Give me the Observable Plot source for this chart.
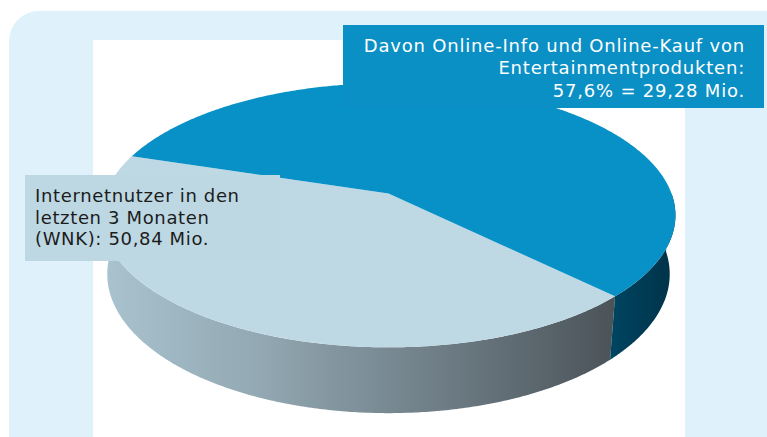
<!DOCTYPE html>
<html>
<head>
<meta charset="utf-8">
<script src="https://cdn.jsdelivr.net/npm/d3@7"></script>
<script src="https://cdn.jsdelivr.net/npm/@observablehq/plot@0.6"></script>
<style>
  html, body { margin: 0; padding: 0; background: #ffffff; }
  #stage { position: relative; width: 767px; height: 437px; overflow: hidden; background: #ffffff; font-family: "DejaVu Sans", Verdana, sans-serif; }
  #panel { position: absolute; left: 9px; top: 11px; width: 820px; height: 500px; border-radius: 30px; background: #dff2fc; }
  #inner { position: absolute; left: 93px; top: 40px; width: 592px; height: 420px; background: #ffffff; }
  #chart { position: absolute; left: 0; top: 0; }
  .lbl { position: absolute; box-sizing: border-box; font-size: 18px; }
  #lblTop { left: 343px; top: 25px; width: 421px; height: 83px; background: #0a90c5; color: #ffffff; text-align: right; padding: 9.5px 19px 0 0; line-height: 22.5px; letter-spacing: 0.8px; }
  #lblLeft { left: 25px; top: 175px; width: 255px; height: 86px; background: #bdd8e3; color: #1c1c1c; text-align: left; padding: 10px 0 0 10px; line-height: 21.5px; letter-spacing: 0.65px; }
</style>
</head>
<body>
<div id="stage">
  <div id="panel"></div>
  <div id="inner"></div>
  <div id="chart"></div>
  <div class="lbl" id="lblTop"></div>
  <div class="lbl" id="lblLeft"></div>
</div>
<script>
// ---- data ----
const totalUsersMio = 50.84;          // Internetnutzer in den letzten 3 Monaten (WNK)
const buyersMio = 29.28;              // davon Online-Info und Online-Kauf
const sliceNames = ["Übrige Internetnutzer", "Online-Info und Online-Kauf"];
const sliceValues = [totalUsersMio - buyersMio, buyersMio];
const topLabelLines = ["Davon Online-Info und Online-Kauf von", "Entertainmentprodukten:", "57,6% = 29,28 Mio."];
const leftLabelLines = ["Internetnutzer in den", "letzten 3 Monaten", "(WNK): 50,84 Mio."];

// ---- layout / style ----
const W = 767, H = 437;
const CX = 388, CY = 193, R = 283;       // pie centre & radius (px)
const TILT = 27 * Math.PI / 180, SA = Math.sin(TILT), CA = Math.cos(TILT);
const FOCAL = 5.4, THICK = 0.235;
const START = Math.PI / 4;
const topFill = ["#bfd9e4", "#0891c6"];
const sideFill = ["url(#sideLight)", "url(#sideDark)"];

function proj(theta, h) {
  const x = Math.cos(theta), z = Math.sin(theta), y = h;
  const k = FOCAL / (FOCAL - (z * CA + y * SA));
  return {u: x * k, v: (z * SA - y * CA) * k};
}

const total = d3.sum(sliceValues);
let acc = START;
const slices = sliceValues.map((v, i) => {
  const a0 = acc, a1 = acc + 2 * Math.PI * v / total;
  acc = a1;
  return {name: sliceNames[i], a0, a1, i};
});

function arcPts(a0, a1, h) {
  const n = Math.max(2, Math.ceil(Math.abs(a1 - a0) / (Math.PI / 360)));
  return d3.range(n + 1).map(j => proj(a0 + (a1 - a0) * j / n, h));
}

function topPoly(s) {
  return [{u: 0, v: 0}, ...arcPts(s.a0, s.a1, 0)];
}

function sidePolys(s) {
  const out = [];
  for (const [lo, hi] of [[0, Math.PI], [2 * Math.PI, 3 * Math.PI]]) {
    const a0 = Math.max(s.a0, lo), a1 = Math.min(s.a1, hi);
    if (a1 > a0) out.push([...arcPts(a0, a1, 0), ...arcPts(a1, a0, -THICK)]);
  }
  return out;
}

const marks = [];
slices.forEach(s => {
  sidePolys(s).forEach(poly => marks.push(
    Plot.line(poly, {x: "u", y: "v", fill: sideFill[s.i], stroke: "none", curve: "linear-closed"})
  ));
});
slices.forEach(s => {
  marks.push(Plot.line(topPoly(s), {x: "u", y: "v", fill: topFill[s.i], stroke: "none", curve: "linear-closed"}));
});

const chart = Plot.plot({
  width: W, height: H, margin: 0,
  x: {domain: [(0 - CX) / R, (W - CX) / R], axis: null},
  y: {domain: [(H - CY) / R, (0 - CY) / R], axis: null},
  style: {background: "transparent", overflow: "visible"},
  marks
});

const defs = d3.select(chart).insert("defs", ":first-child");
const g1 = defs.append("linearGradient").attr("id", "sideLight").attr("x1", 0).attr("y1", 0).attr("x2", 1).attr("y2", 0);
[[0, "#a9c3cf"], [0.3, "#93a9b3"], [0.65, "#6f7e87"], [1, "#4b5359"]].forEach(([o, c]) =>
  g1.append("stop").attr("offset", o).attr("stop-color", c));
const g2 = defs.append("linearGradient").attr("id", "sideDark").attr("x1", 0).attr("y1", 0).attr("x2", 1).attr("y2", 0);
[[0, "#004562"], [1, "#003248"]].forEach(([o, c]) =>
  g2.append("stop").attr("offset", o).attr("stop-color", c));

document.getElementById("chart").appendChild(chart);
document.getElementById("lblTop").innerHTML = topLabelLines.join("<br>");
document.getElementById("lblLeft").innerHTML = leftLabelLines.join("<br>");
</script>
</body>
</html>
